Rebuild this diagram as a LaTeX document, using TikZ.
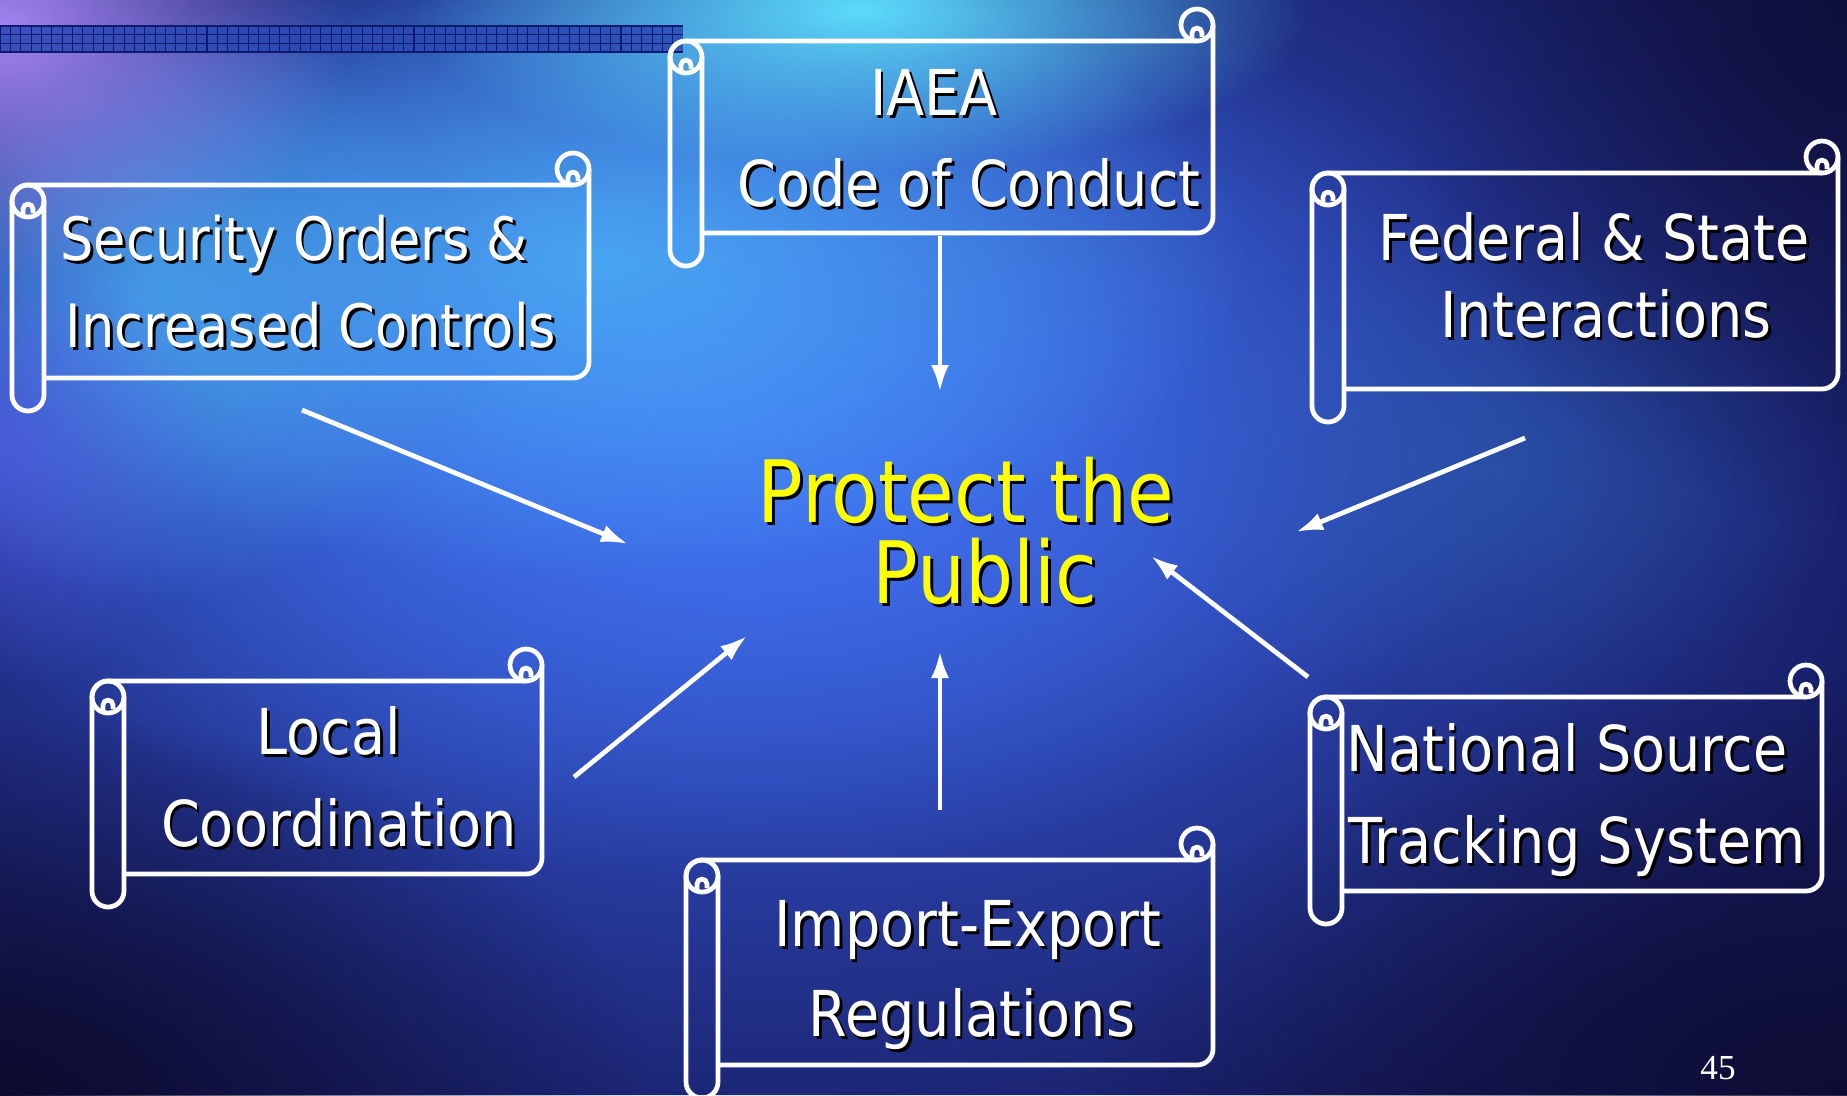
\documentclass[tikz,border=0pt]{standalone}
\usepackage{fontspec}
\setmainfont{DejaVu Sans}[FakeStretch=0.88]
\newfontfamily\slidenumfont{Liberation Serif}
\usetikzlibrary{arrows.meta}
\usetikzlibrary{fadings}

\definecolor{bgnavy}{HTML}{161A5E}
\definecolor{bgblue}{HTML}{3C62E8}
\definecolor{bgmid}{HTML}{4176F2}
\definecolor{bgsky}{HTML}{4CB4F6}
\definecolor{bgcyan}{HTML}{5CDCFA}
\definecolor{bgviolet}{HTML}{A585F2}
\definecolor{bgindigo}{HTML}{5A5CF0}
\definecolor{bgteal}{HTML}{2D5EB0}
\definecolor{bgdark}{HTML}{0D0B2E}
\definecolor{gridblue}{HTML}{2A48B4}
\definecolor{gridline}{HTML}{0E1A6E}
\definecolor{goalyellow}{HTML}{FFFF00}

\tikzfading[name=softglow, inner color=transparent!0, outer color=transparent!100]

\tikzset{%
  scrollline/.style={draw=white, line width=1.35pt, line join=round},% scroll outline
  scrolltext/.style={text=white, font=\fontsize{18}{22}\selectfont, anchor=mid, inner sep=0pt},% text on a scroll
  goal/.style={text=goalyellow, font=\fontsize{24.5}{29}\selectfont, anchor=mid, inner sep=0pt},% centre text
  feed/.style={draw=white, line width=1.35pt, -{Latex[length=2.7mm, width=1.8mm]}},% arrows into the centre
  glow/.style={path fading=softglow}% soft blob of colour
}

% text with a small black drop shadow
\newcommand*{\shadowed}[1]{\leavevmode\rlap{\kern0.28mm\raisebox{-0.28mm}{\color{black}#1}}#1}

% scroll: #1 roll centre x, #2 top, #3 right edge, #4 bottom (all in px, y downwards)
\newcommand*{\scroll}[4]{%
  \draw[scrollline] (#3-16,-#2) -- (#1,-#2) arc[start angle=90, end angle=180, radius=16]
    -- (#1-16,-#4-17) arc[start angle=180, end angle=360, radius=16] -- (#1+16,-#2-16);
  \draw[scrollline] (#1+16,-#4) -- (#3-16,-#4) arc[start angle=270, end angle=360, radius=16]
    -- (#3,-#2+16);
  % the two curls
  \draw[scrollline] (#1,-#2-16) circle[radius=16];
  \draw[scrollline] (#3-16,-#2+16) circle[radius=16];
  \draw[scrollline] (#1-5,-#2-32) -- (#1-5,-#2-24) arc[start angle=180, end angle=0, radius=5] -- ++(0,-4);
  \draw[scrollline] (#3-21,-#2) -- (#3-21,-#2+8) arc[start angle=180, end angle=0, radius=5] -- ++(0,-4);
}

\begin{document}
\begin{tikzpicture}[x=0.1mm, y=0.1mm]
  \useasboundingbox (0,0) rectangle (1847,-1095);
  % Background: dark navy with soft blue and cyan light
  \begin{scope}
    \clip (0,0) rectangle (1847,-1095);
    \fill[bgnavy] (0,0) rectangle (1847,-1095);
    \fill[bgblue, glow] (780,-470) ellipse [x radius=1200, y radius=760];
    \fill[bgmid, glow] (700,-400) ellipse [x radius=850, y radius=480];
    \fill[bgsky, glow, opacity=.8] (600,-260) ellipse [x radius=650, y radius=320];
    \fill[bgsky, glow, opacity=.7] (150,-300) ellipse [x radius=320, y radius=300];
    \fill[bgindigo, glow, opacity=.6] (0,-450) ellipse [x radius=220, y radius=240];
    \fill[bgcyan, glow] (860,-10) ellipse [x radius=450, y radius=160];
    \fill[bgviolet, glow] (0,-30) ellipse [x radius=350, y radius=250];
    \fill[bgteal, glow, opacity=.6] (1500,-470) ellipse [x radius=350, y radius=250];
    \fill[bgdark, glow] (0,-1095) ellipse [x radius=650, y radius=380];
    \fill[bgdark, glow, opacity=.9] (1847,-1095) ellipse [x radius=750, y radius=420];
    \fill[bgdark, glow, opacity=.7] (1847,0) ellipse [x radius=450, y radius=520];
  \end{scope}
  % Checked strip in the upper left corner
  \fill[gridblue, opacity=.85] (0,-26) rectangle (683,-52);
  \foreach \gx in {0,10.35,...,683}
    \draw[gridline, line width=.3pt] (\gx,-26) -- (\gx,-52);
  \foreach \gy in {26,34.7,43.3,52}
    \draw[gridline, line width=.3pt] (0,-\gy) -- (683,-\gy);

  % The six scrolls
  \scroll{686}{41}{1213}{233}
  \scroll{28}{185}{589}{378}
  \scroll{1328}{173}{1838}{389}
  \scroll{108}{681}{542}{874}
  \scroll{1326}{697}{1822}{891}
  \scroll{702}{860}{1213}{1065}

  % Scroll texts
  \node[scrolltext] (iaea) at (934,-106) {\shadowed{IAEA}};
  \node[scrolltext] (code) at (969,-197) {\shadowed{Code of Conduct}};
  \node[scrolltext, font=\fontsize{17}{21}\selectfont] (secord) at (294,-251) {\shadowed{Security Orders \&}};
  \node[scrolltext, font=\fontsize{17}{21}\selectfont] (secctl) at (311,-338) {\shadowed{Increased Controls}};
  \node[scrolltext] (fedst) at (1594,-251) {\shadowed{Federal \& State}};
  \node[scrolltext] (fedint) at (1606,-328) {\shadowed{Interactions}};
  \node[scrolltext] (local) at (329,-745) {\shadowed{Local}};
  \node[scrolltext] (coord) at (339,-837) {\shadowed{Coordination}};
  \node[scrolltext] (natsrc) at (1567,-762) {\shadowed{National Source}};
  \node[scrolltext] (natsys) at (1577,-854) {\shadowed{Tracking System}};
  \node[scrolltext] (impexp) at (968,-937) {\shadowed{Import-Export}};
  \node[scrolltext] (impreg) at (972,-1027) {\shadowed{Regulations}};

  % Centre
  \node[goal] (protect) at (966,-513) {\shadowed{Protect the}};
  \node[goal] (public) at (985,-594) {\shadowed{Public}};

  % Arrow ends
  \coordinate (a1s) at (940,-236);  \coordinate (a1e) at (940,-392);
  \coordinate (a2s) at (302,-410);  \coordinate (a2e) at (628,-544);
  \coordinate (a3s) at (1525,-438); \coordinate (a3e) at (1296,-532);
  \coordinate (a4s) at (574,-777);  \coordinate (a4e) at (747,-636);
  \coordinate (a5s) at (940,-810);  \coordinate (a5e) at (940,-651);
  \coordinate (a6s) at (1308,-677); \coordinate (a6e) at (1151,-556);
  \foreach \i in {1,...,6}
    \draw[feed] (a\i s) -- (a\i e);

  \node[text=white, font=\slidenumfont\fontsize{10}{12}\selectfont] (pageno) at (1718,-1068) {45};
\end{tikzpicture}
\end{document}
